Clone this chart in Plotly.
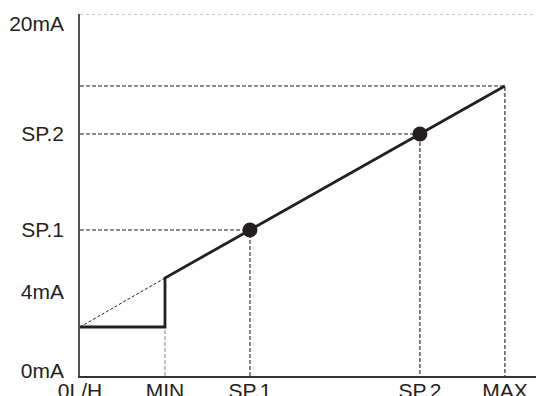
import plotly.graph_objects as go

# eje X: posiciones nominales de la escala de entrada
X_TICKS = [0, 1, 2, 4, 5]
X_LABELS = ["0L/H", "MIN", "SP.1", "SP.2", "MAX"]
X_MAX = 5.46

# eje Y: niveles de salida (esquemático, no a escala)
Y_TICKS = [0.25, 4.2, 7.3, 12.1, 17.6]
Y_LABELS = ["0mA", "4mA", "SP.1", "SP.2", "20mA"]
Y_MAX = 18.1

# curva de salida: nivel bajo hasta MIN, salto, luego recta hasta MAX
OUT_X = [0, 1, 1, 5]
OUT_Y = [2.45, 2.45, 4.9, 14.5]

# puntos de consigna sobre la recta
SP_X = [2, 4]
SP_Y = [7.3, 12.1]

INK = "#231f20"
FONT = "Liberation Sans, Arial, sans-serif"

fig = go.Figure()

# prolongación de la recta por debajo de MIN (discontinua fina)
fig.add_trace(go.Scatter(x=[OUT_X[0], OUT_X[2]], y=[OUT_Y[0], OUT_Y[2]],
                         mode="lines", line=dict(color=INK, width=1, dash="3px,2px")))

# guías desde el nivel máximo y los puntos de consigna
for gx, gy in zip([OUT_X[-1]] + SP_X, [OUT_Y[-1]] + SP_Y):
    fig.add_trace(go.Scatter(x=[0, gx, gx], y=[gy, gy, 0], mode="lines",
                             line=dict(color=INK, width=1.1, dash="4px,2px")))

# guía de MIN (gris)
fig.add_trace(go.Scatter(x=[OUT_X[1], OUT_X[1]], y=[0, OUT_Y[1]], mode="lines",
                         line=dict(color="#888888", width=1, dash="4px,2px")))

# curva principal
fig.add_trace(go.Scatter(x=OUT_X, y=OUT_Y, mode="lines",
                         line=dict(color=INK, width=2.8)))
fig.add_trace(go.Scatter(x=SP_X, y=SP_Y, mode="markers",
                         marker=dict(color=INK, size=15)))

# borde superior punteado
fig.add_shape(type="line", xref="paper", yref="y", x0=0, x1=1, y0=Y_MAX, y1=Y_MAX,
              line=dict(color="#999999", width=1, dash="dot"))

fig.update_xaxes(range=[0, X_MAX], tickmode="array", tickvals=X_TICKS,
                 ticktext=X_LABELS, showgrid=False, zeroline=False,
                 showline=True, linecolor="#333333", linewidth=1.5,
                 ticks="", ticklabelstandoff=-5, automargin=False,
                 tickfont=dict(size=21, color=INK, family=FONT))
fig.update_yaxes(range=[0, Y_MAX], tickmode="array", tickvals=Y_TICKS,
                 ticktext=Y_LABELS, showgrid=False, zeroline=False,
                 showline=True, linecolor="#555555", linewidth=1.5,
                 ticks="outside", ticklen=10, tickcolor="rgba(0,0,0,0)",
                 automargin=False,
                 tickfont=dict(size=21, color=INK, family=FONT))
# la página añade 8 px de margen: la figura ocupa 536x388 dentro de la ventana
fig.update_layout(width=536, height=388, showlegend=False,
                  plot_bgcolor="white", paper_bgcolor="white",
                  margin=dict(l=72, r=0, t=6, b=20))
fig.write_html("out.html")
